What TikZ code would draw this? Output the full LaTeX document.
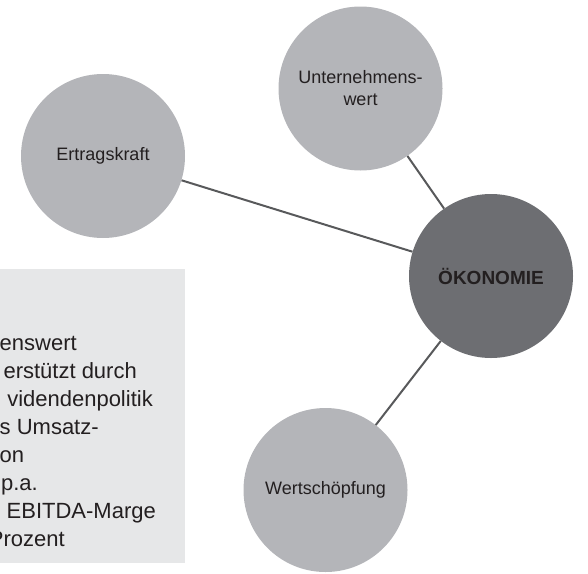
\documentclass[tikz,border=0pt]{standalone}
\usepackage{fontspec}
\setmainfont{Liberation Sans}
\usetikzlibrary{positioning}
\definecolor{Hellgrau}{RGB}{180,181,185}
\definecolor{Dunkelgrau}{RGB}{109,110,114}
\definecolor{Kastengrau}{RGB}{230,231,232}
\definecolor{Liniengrau}{RGB}{88,89,91}
\definecolor{Schrift}{RGB}{35,31,32}

\begin{document}
\begin{tikzpicture}[x=1pt, y=-1pt,
        kreis/.style={
            circle,
            fill=Hellgrau,
            minimum size=164pt,
            inner sep=0pt,
            align=center,
            text=Schrift,
            font=\fontsize{18}{22}\selectfont
        },
        zentrum/.style={
            kreis,
            fill=Dunkelgrau,
            font=\fontsize{19}{22}\selectfont\bfseries
        },
        zeile/.style={
            anchor=base east,
            inner sep=0pt,
            text=Schrift,
            font=\fontsize{22}{28}\selectfont
        },
        linie/.style={
            draw=Liniengrau,
            line width=2pt
        }
    ]
        \useasboundingbox (0,0) rectangle (588,573);
        \clip (0,0) rectangle (588,573);

        % Kasten links unten (am Rand abgeschnitten)
        \fill[Kastengrau] (-10,269) rectangle (185,563);
        \node[zeile, anchor=base west] (z1) at (-0.5,350) {enswert};
        \node[zeile] (z2) at (137,378) {erstützt durch};
        \node[zeile] (z3) at (153,406) {videndenpolitik};
        \node[zeile, anchor=base west] (z4) at (-0.5,434) {s Umsatz-};
        \node[zeile, anchor=base west] (z5) at (-0.5,462) {on};
        \node[zeile] (z6) at (38,490) {p.a.};
        \node[zeile] (z7) at (156,518) {EBITDA-Marge};
        \node[zeile] (z8) at (65,546) {Prozent};

        % Kreise
        \node[kreis] (ertrag) at (103,156) {Ertragskraft};
        \node[kreis] (wert) at (360.5,88.5) {Unternehmens-\\wert};
        \node[zentrum] (oeko) at (491,276) {ÖKONOMIE};
        \node[kreis] (schoepf) at (325.5,490) {Wertschöpfung};

        % Verbindungen
        \draw[linie] (ertrag) -- (oeko);
        \draw[linie] (wert) -- (oeko);
        \draw[linie] (schoepf) -- (oeko);
    \end{tikzpicture}
\end{document}
